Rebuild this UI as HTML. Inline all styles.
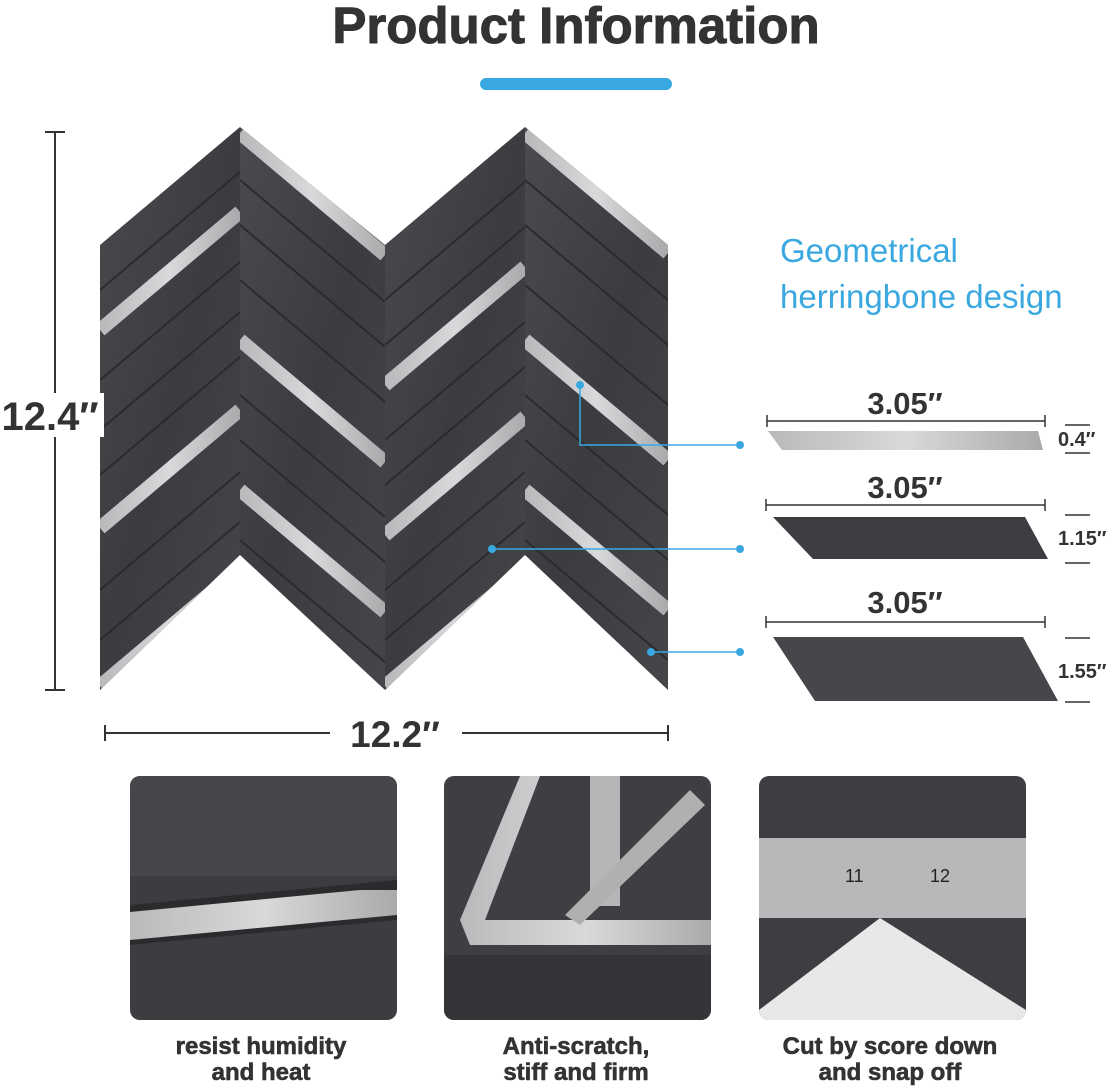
<!DOCTYPE html>
<html><head><meta charset="utf-8"><style>
body{margin:0;background:#fff;}
svg{display:block}
text{font-family:"Liberation Sans",sans-serif;font-weight:bold;}
</style></head><body>
<svg width="1120" height="1089" viewBox="0 0 1120 1089">
<defs>
<linearGradient id="stone" x1="0" y1="0" x2="1" y2="1">
<stop offset="0" stop-color="#4a4c50"/><stop offset="0.5" stop-color="#3a3c40"/><stop offset="1" stop-color="#45474b"/></linearGradient>
<linearGradient id="silver" x1="0" y1="0" x2="1" y2="0">
<stop offset="0" stop-color="#b8b9bb"/><stop offset="0.5" stop-color="#d8d9db"/><stop offset="1" stop-color="#a9aaac"/></linearGradient>
<clipPath id="c1"><polygon points="100,245 240,127 240,555 100,690"/></clipPath>
<clipPath id="c2"><polygon points="240,127 385,245 385,690 240,555"/></clipPath>
<clipPath id="c3"><polygon points="385,245 525,127 525,555 385,690"/></clipPath>
<clipPath id="c4"><polygon points="525,127 668,245 668,690 525,555"/></clipPath>
<clipPath id="p1"><rect x="130" y="776" width="267" height="244" rx="10"/></clipPath>
<clipPath id="p2"><rect x="444" y="776" width="267" height="244" rx="10"/></clipPath>
<clipPath id="p3"><rect x="759" y="776" width="267" height="244" rx="10"/></clipPath>
</defs>

<text x="576" y="43" font-size="51" fill="#333" text-anchor="middle" stroke="#333" stroke-width="1">Product  Information</text>
<rect x="480" y="78" width="192" height="12" rx="6" fill="#3aa8e0"/>

<g clip-path="url(#c1)">
<rect x="90" y="110" width="160" height="600" fill="url(#stone)"/>
<g stroke="#2a2b2e" stroke-width="2">
<line x1="100" y1="290" x2="240" y2="172"/><line x1="100" y1="380" x2="240" y2="262"/><line x1="100" y1="430" x2="240" y2="312"/><line x1="100" y1="475" x2="240" y2="357"/><line x1="100" y1="590" x2="240" y2="472"/><line x1="100" y1="640" x2="240" y2="522"/></g>
<g stroke="url(#silver)" stroke-width="14"><line x1="100" y1="330" x2="240" y2="212"/><line x1="100" y1="528" x2="240" y2="410"/><line x1="100" y1="686" x2="240" y2="568"/></g>
</g>
<g clip-path="url(#c2)">
<rect x="230" y="110" width="165" height="600" fill="url(#stone)"/>
<g stroke="#2a2b2e" stroke-width="2">
<line x1="240" y1="180" x2="385" y2="302"/><line x1="240" y1="225" x2="385" y2="347"/><line x1="240" y1="280" x2="385" y2="402"/><line x1="240" y1="395" x2="385" y2="517"/><line x1="240" y1="440" x2="385" y2="562"/><line x1="240" y1="540" x2="385" y2="662"/></g>
<g stroke="url(#silver)" stroke-width="14"><line x1="240" y1="133" x2="385" y2="255"/><line x1="240" y1="340" x2="385" y2="462"/><line x1="240" y1="490" x2="385" y2="612"/></g>
</g>
<g clip-path="url(#c3)">
<rect x="375" y="110" width="160" height="600" fill="url(#stone)"/>
<g stroke="#2a2b2e" stroke-width="2">
<line x1="385" y1="300" x2="525" y2="182"/><line x1="385" y1="345" x2="525" y2="227"/><line x1="385" y1="440" x2="525" y2="322"/><line x1="385" y1="485" x2="525" y2="367"/><line x1="385" y1="590" x2="525" y2="472"/><line x1="385" y1="640" x2="525" y2="522"/></g>
<g stroke="url(#silver)" stroke-width="14"><line x1="385" y1="385" x2="525" y2="267"/><line x1="385" y1="535" x2="525" y2="417"/><line x1="385" y1="686" x2="525" y2="568"/></g>
</g>
<g clip-path="url(#c4)">
<rect x="515" y="110" width="165" height="600" fill="url(#stone)"/>
<g stroke="#2a2b2e" stroke-width="2">
<line x1="525" y1="180" x2="668" y2="300"/><line x1="525" y1="225" x2="668" y2="345"/><line x1="525" y1="285" x2="668" y2="405"/><line x1="525" y1="395" x2="668" y2="515"/><line x1="525" y1="440" x2="668" y2="560"/><line x1="525" y1="540" x2="668" y2="660"/></g>
<g stroke="url(#silver)" stroke-width="14"><line x1="525" y1="133" x2="668" y2="253"/><line x1="525" y1="340" x2="668" y2="460"/><line x1="525" y1="490" x2="668" y2="610"/></g>
</g>

<g stroke="#333" stroke-width="2">
<line x1="55" y1="132" x2="55" y2="690"/><line x1="45" y1="132" x2="65" y2="132"/><line x1="45" y1="690" x2="65" y2="690"/>
<line x1="105" y1="733" x2="330" y2="733"/><line x1="462" y1="733" x2="668" y2="733"/>
<line x1="105" y1="725" x2="105" y2="741"/><line x1="668" y1="725" x2="668" y2="741"/>
</g>
<rect x="0" y="393" width="104" height="44" fill="#fff"/>
<text x="50" y="430" font-size="40" fill="#333" text-anchor="middle">12.4″</text>
<text x="395" y="747" font-size="37" fill="#333" text-anchor="middle">12.2″</text>

<text x="780" y="262" font-size="33" fill="#3aa8e0" style="font-weight:normal">Geometrical</text>
<text x="780" y="308" font-size="33" fill="#3aa8e0" style="font-weight:normal">herringbone design</text>

<g stroke="#3aa8e0" stroke-width="1.5" fill="none">
<polyline points="580,385 580,445 740,445"/><line x1="492" y1="549" x2="740" y2="549"/><line x1="651" y1="652" x2="740" y2="652"/></g>
<g fill="#3aa8e0"><circle cx="580" cy="385" r="4"/><circle cx="740" cy="445" r="4"/><circle cx="492" cy="549" r="4"/><circle cx="740" cy="549" r="4"/><circle cx="651" cy="652" r="4"/><circle cx="740" cy="652" r="4"/></g>

<g stroke="#333" stroke-width="1.5">
<line x1="767" y1="421" x2="1045" y2="421"/><line x1="767" y1="415" x2="767" y2="427"/><line x1="1045" y1="415" x2="1045" y2="427"/>
<line x1="766" y1="505" x2="1045" y2="505"/><line x1="766" y1="499" x2="766" y2="511"/><line x1="1045" y1="499" x2="1045" y2="511"/>
<line x1="766" y1="622" x2="1045" y2="622"/><line x1="766" y1="616" x2="766" y2="628"/><line x1="1045" y1="616" x2="1045" y2="628"/>
<line x1="1065" y1="425" x2="1090" y2="425"/><line x1="1065" y1="453" x2="1090" y2="453"/>
<line x1="1065" y1="515" x2="1090" y2="515"/><line x1="1065" y1="563" x2="1090" y2="563"/>
<line x1="1065" y1="638" x2="1090" y2="638"/><line x1="1065" y1="702" x2="1090" y2="702"/>
</g>
<text x="905" y="414" font-size="31" fill="#333" text-anchor="middle">3.05″</text>
<text x="905" y="498" font-size="31" fill="#333" text-anchor="middle">3.05″</text>
<text x="905" y="613" font-size="31" fill="#333" text-anchor="middle">3.05″</text>
<text x="1058" y="446" font-size="20" fill="#333">0.4″</text>
<text x="1058" y="545" font-size="20" fill="#333">1.15″</text>
<text x="1058" y="678" font-size="20" fill="#333">1.55″</text>
<polygon points="768,431 1038,431 1043,450 782,450" fill="url(#silver)"/>
<polygon points="773,517 1025,517 1048,559 813,559" fill="#3c3e41"/>
<polygon points="773,637 1023,637 1058,701 815,701" fill="#45474a"/>

<g clip-path="url(#p1)">
<rect x="130" y="776" width="267" height="244" fill="#3b3d40"/>
<polygon points="130,905 397,880 397,920 130,945" fill="#2a2b2d"/>
<polygon points="130,912 360,890 397,890 397,915 130,940" fill="url(#silver)"/>
<rect x="130" y="776" width="267" height="100" fill="#45474a"/>
</g>
<g clip-path="url(#p2)">
<rect x="444" y="776" width="267" height="244" fill="#3d3f42"/>
<polygon points="460,920 520,776 540,776 485,920 711,920 711,945 470,945" fill="url(#silver)"/>
<rect x="590" y="776" width="30" height="130" fill="#b5b6b8"/>
<polygon points="565,915 690,790 705,805 580,925" fill="#b0b0b0"/>
<rect x="444" y="955" width="267" height="65" fill="#333538"/>
</g>
<g clip-path="url(#p3)">
<rect x="759" y="776" width="267" height="244" fill="#3c3e41"/>
<rect x="759" y="838" width="267" height="80" fill="#b7b8ba"/>
<polygon points="880,918 1026,1010 1026,1020 759,1020 759,1010" fill="#e8e8e8"/>
<text x="845" y="882" font-size="18" fill="#222" style="font-weight:normal">11</text>
<text x="930" y="882" font-size="18" fill="#222" style="font-weight:normal">12</text>
</g>
<g font-size="24" fill="#333" text-anchor="middle" stroke="#333" stroke-width="0.6">
<text x="261" y="1054">resist humidity</text><text x="261" y="1080">and heat</text>
<text x="576" y="1054">Anti-scratch,</text><text x="576" y="1080">stiff and firm</text>
<text x="890" y="1054">Cut by score down</text><text x="890" y="1080">and snap off</text>
</g>
</svg>
</body></html>
